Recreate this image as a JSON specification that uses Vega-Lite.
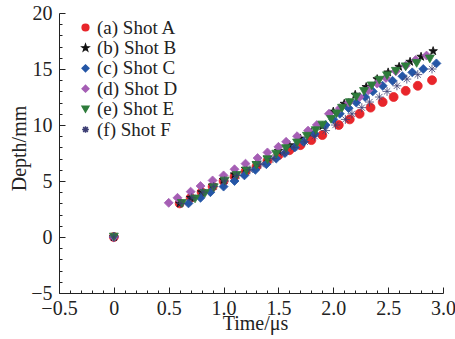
{
  "$schema": "https://vega.github.io/schema/vega-lite/v6.json",
  "width": 384,
  "height": 280,
  "autosize": {"type": "none"},
  "padding": {"left": 59, "top": 13, "right": 12, "bottom": 46},
  "config": {
    "view": {"stroke": null},
    "font": "Liberation Serif",
    "axis": {
      "grid": false,
      "domainColor": "#222222",
      "domainWidth": 1,
      "tickColor": "#222222",
      "tickWidth": 1,
      "labelFont": "Liberation Serif",
      "labelFontSize": 20,
      "labelColor": "#222222",
      "titleFont": "Liberation Serif",
      "titleFontSize": 20,
      "titleFontWeight": "normal",
      "titleColor": "#222222"
    }
  },
  "data": {
    "values": [
      {"shot": "(a) Shot A", "t": 0, "depth": 0},
      {"shot": "(a) Shot A", "t": 0.6, "depth": 3.0},
      {"shot": "(a) Shot A", "t": 0.7, "depth": 3.5},
      {"shot": "(a) Shot A", "t": 0.8, "depth": 4.0},
      {"shot": "(a) Shot A", "t": 0.9, "depth": 4.5},
      {"shot": "(a) Shot A", "t": 1.0, "depth": 5.0},
      {"shot": "(a) Shot A", "t": 1.1, "depth": 5.4},
      {"shot": "(a) Shot A", "t": 1.2, "depth": 5.85},
      {"shot": "(a) Shot A", "t": 1.3, "depth": 6.3},
      {"shot": "(a) Shot A", "t": 1.4, "depth": 6.8},
      {"shot": "(a) Shot A", "t": 1.5, "depth": 7.3},
      {"shot": "(a) Shot A", "t": 1.6, "depth": 7.75},
      {"shot": "(a) Shot A", "t": 1.7, "depth": 8.2},
      {"shot": "(a) Shot A", "t": 1.8, "depth": 8.65},
      {"shot": "(a) Shot A", "t": 1.9, "depth": 9.1},
      {"shot": "(a) Shot A", "t": 2.05, "depth": 10.0},
      {"shot": "(a) Shot A", "t": 2.15, "depth": 10.5},
      {"shot": "(a) Shot A", "t": 2.24, "depth": 11.0},
      {"shot": "(a) Shot A", "t": 2.34, "depth": 11.55},
      {"shot": "(a) Shot A", "t": 2.45, "depth": 12.05},
      {"shot": "(a) Shot A", "t": 2.55, "depth": 12.5},
      {"shot": "(a) Shot A", "t": 2.66, "depth": 13.05},
      {"shot": "(a) Shot A", "t": 2.77, "depth": 13.5},
      {"shot": "(a) Shot A", "t": 2.9, "depth": 14.0},

      {"shot": "(b) Shot B", "t": 0, "depth": 0},
      {"shot": "(b) Shot B", "t": 0.6, "depth": 3.0},
      {"shot": "(b) Shot B", "t": 0.7, "depth": 3.5},
      {"shot": "(b) Shot B", "t": 0.8, "depth": 4.0},
      {"shot": "(b) Shot B", "t": 0.9, "depth": 4.6},
      {"shot": "(b) Shot B", "t": 1.0, "depth": 5.1},
      {"shot": "(b) Shot B", "t": 1.1, "depth": 5.6},
      {"shot": "(b) Shot B", "t": 1.2, "depth": 6.1},
      {"shot": "(b) Shot B", "t": 1.3, "depth": 6.6},
      {"shot": "(b) Shot B", "t": 1.4, "depth": 7.1},
      {"shot": "(b) Shot B", "t": 1.5, "depth": 7.7},
      {"shot": "(b) Shot B", "t": 1.6, "depth": 8.2},
      {"shot": "(b) Shot B", "t": 1.7, "depth": 8.8},
      {"shot": "(b) Shot B", "t": 1.8, "depth": 9.3},
      {"shot": "(b) Shot B", "t": 1.9, "depth": 9.9},
      {"shot": "(b) Shot B", "t": 2.0, "depth": 11.2},
      {"shot": "(b) Shot B", "t": 2.1, "depth": 11.9},
      {"shot": "(b) Shot B", "t": 2.2, "depth": 12.7},
      {"shot": "(b) Shot B", "t": 2.3, "depth": 13.4},
      {"shot": "(b) Shot B", "t": 2.4, "depth": 14.1},
      {"shot": "(b) Shot B", "t": 2.5, "depth": 14.7},
      {"shot": "(b) Shot B", "t": 2.6, "depth": 15.2},
      {"shot": "(b) Shot B", "t": 2.7, "depth": 15.65},
      {"shot": "(b) Shot B", "t": 2.8, "depth": 16.1},
      {"shot": "(b) Shot B", "t": 2.91, "depth": 16.6},

      {"shot": "(c) Shot C", "t": 0, "depth": 0},
      {"shot": "(c) Shot C", "t": 0.68, "depth": 3.0},
      {"shot": "(c) Shot C", "t": 0.79, "depth": 3.5},
      {"shot": "(c) Shot C", "t": 0.88, "depth": 4.0},
      {"shot": "(c) Shot C", "t": 1.0, "depth": 4.5},
      {"shot": "(c) Shot C", "t": 1.1, "depth": 5.0},
      {"shot": "(c) Shot C", "t": 1.19, "depth": 5.5},
      {"shot": "(c) Shot C", "t": 1.29, "depth": 6.0},
      {"shot": "(c) Shot C", "t": 1.39, "depth": 6.5},
      {"shot": "(c) Shot C", "t": 1.48, "depth": 7.0},
      {"shot": "(c) Shot C", "t": 1.56, "depth": 7.5},
      {"shot": "(c) Shot C", "t": 1.65, "depth": 8.0},
      {"shot": "(c) Shot C", "t": 1.73, "depth": 8.5},
      {"shot": "(c) Shot C", "t": 1.83, "depth": 9.2},
      {"shot": "(c) Shot C", "t": 1.93, "depth": 10.0},
      {"shot": "(c) Shot C", "t": 2.0, "depth": 10.5},
      {"shot": "(c) Shot C", "t": 2.06, "depth": 11.0},
      {"shot": "(c) Shot C", "t": 2.14, "depth": 11.5},
      {"shot": "(c) Shot C", "t": 2.21, "depth": 12.0},
      {"shot": "(c) Shot C", "t": 2.29, "depth": 12.5},
      {"shot": "(c) Shot C", "t": 2.36, "depth": 13.0},
      {"shot": "(c) Shot C", "t": 2.45, "depth": 13.5},
      {"shot": "(c) Shot C", "t": 2.54, "depth": 13.95},
      {"shot": "(c) Shot C", "t": 2.63, "depth": 14.35},
      {"shot": "(c) Shot C", "t": 2.72, "depth": 14.7},
      {"shot": "(c) Shot C", "t": 2.82, "depth": 15.0},
      {"shot": "(c) Shot C", "t": 2.94, "depth": 15.5},

      {"shot": "(d) Shot D", "t": 0, "depth": 0},
      {"shot": "(d) Shot D", "t": 0.5, "depth": 3.05},
      {"shot": "(d) Shot D", "t": 0.58, "depth": 3.5},
      {"shot": "(d) Shot D", "t": 0.7, "depth": 4.05},
      {"shot": "(d) Shot D", "t": 0.79, "depth": 4.55},
      {"shot": "(d) Shot D", "t": 0.9, "depth": 5.05},
      {"shot": "(d) Shot D", "t": 1.0, "depth": 5.5},
      {"shot": "(d) Shot D", "t": 1.1, "depth": 6.05},
      {"shot": "(d) Shot D", "t": 1.2, "depth": 6.55},
      {"shot": "(d) Shot D", "t": 1.31, "depth": 7.05},
      {"shot": "(d) Shot D", "t": 1.4, "depth": 7.55},
      {"shot": "(d) Shot D", "t": 1.5, "depth": 8.05},
      {"shot": "(d) Shot D", "t": 1.57, "depth": 8.5},
      {"shot": "(d) Shot D", "t": 1.67, "depth": 9.0},
      {"shot": "(d) Shot D", "t": 1.77, "depth": 9.5},
      {"shot": "(d) Shot D", "t": 1.85, "depth": 10.0},
      {"shot": "(d) Shot D", "t": 1.96, "depth": 11.0},
      {"shot": "(d) Shot D", "t": 2.06, "depth": 11.5},
      {"shot": "(d) Shot D", "t": 2.14, "depth": 12.0},
      {"shot": "(d) Shot D", "t": 2.24, "depth": 12.5},
      {"shot": "(d) Shot D", "t": 2.32, "depth": 13.1},
      {"shot": "(d) Shot D", "t": 2.4, "depth": 13.7},
      {"shot": "(d) Shot D", "t": 2.48, "depth": 14.2},
      {"shot": "(d) Shot D", "t": 2.57, "depth": 14.8},
      {"shot": "(d) Shot D", "t": 2.66, "depth": 15.3},
      {"shot": "(d) Shot D", "t": 2.75, "depth": 15.8},
      {"shot": "(d) Shot D", "t": 2.85, "depth": 16.2},

      {"shot": "(e) Shot E", "t": 0, "depth": 0},
      {"shot": "(e) Shot E", "t": 0.62, "depth": 3.0},
      {"shot": "(e) Shot E", "t": 0.74, "depth": 3.4},
      {"shot": "(e) Shot E", "t": 0.83, "depth": 3.9},
      {"shot": "(e) Shot E", "t": 0.91, "depth": 4.4},
      {"shot": "(e) Shot E", "t": 1.01, "depth": 5.0},
      {"shot": "(e) Shot E", "t": 1.12, "depth": 5.5},
      {"shot": "(e) Shot E", "t": 1.21, "depth": 5.9},
      {"shot": "(e) Shot E", "t": 1.3, "depth": 6.4},
      {"shot": "(e) Shot E", "t": 1.4, "depth": 6.9},
      {"shot": "(e) Shot E", "t": 1.48, "depth": 7.4},
      {"shot": "(e) Shot E", "t": 1.57, "depth": 7.9},
      {"shot": "(e) Shot E", "t": 1.67, "depth": 8.4},
      {"shot": "(e) Shot E", "t": 1.76, "depth": 9.0},
      {"shot": "(e) Shot E", "t": 1.84, "depth": 9.5},
      {"shot": "(e) Shot E", "t": 1.9, "depth": 10.0},
      {"shot": "(e) Shot E", "t": 1.98, "depth": 10.5},
      {"shot": "(e) Shot E", "t": 2.03, "depth": 11.0},
      {"shot": "(e) Shot E", "t": 2.08, "depth": 11.5},
      {"shot": "(e) Shot E", "t": 2.15, "depth": 12.0},
      {"shot": "(e) Shot E", "t": 2.21, "depth": 12.5},
      {"shot": "(e) Shot E", "t": 2.28, "depth": 13.0},
      {"shot": "(e) Shot E", "t": 2.35, "depth": 13.5},
      {"shot": "(e) Shot E", "t": 2.42, "depth": 14.0},
      {"shot": "(e) Shot E", "t": 2.49, "depth": 14.4},
      {"shot": "(e) Shot E", "t": 2.57, "depth": 14.8},
      {"shot": "(e) Shot E", "t": 2.66, "depth": 15.2},
      {"shot": "(e) Shot E", "t": 2.76, "depth": 15.5},
      {"shot": "(e) Shot E", "t": 2.88, "depth": 15.9},

      {"shot": "(f) Shot F", "t": 0, "depth": 0},
      {"shot": "(f) Shot F", "t": 0.61, "depth": 3.0},
      {"shot": "(f) Shot F", "t": 0.71, "depth": 3.5},
      {"shot": "(f) Shot F", "t": 0.81, "depth": 4.0},
      {"shot": "(f) Shot F", "t": 0.91, "depth": 4.5},
      {"shot": "(f) Shot F", "t": 1.01, "depth": 5.0},
      {"shot": "(f) Shot F", "t": 1.12, "depth": 5.5},
      {"shot": "(f) Shot F", "t": 1.24, "depth": 6.0},
      {"shot": "(f) Shot F", "t": 1.34, "depth": 6.5},
      {"shot": "(f) Shot F", "t": 1.45, "depth": 7.0},
      {"shot": "(f) Shot F", "t": 1.55, "depth": 7.5},
      {"shot": "(f) Shot F", "t": 1.64, "depth": 8.0},
      {"shot": "(f) Shot F", "t": 1.74, "depth": 8.5},
      {"shot": "(f) Shot F", "t": 1.83, "depth": 9.0},
      {"shot": "(f) Shot F", "t": 1.93, "depth": 9.5},
      {"shot": "(f) Shot F", "t": 2.02, "depth": 10.0},
      {"shot": "(f) Shot F", "t": 2.11, "depth": 10.5},
      {"shot": "(f) Shot F", "t": 2.17, "depth": 11.0},
      {"shot": "(f) Shot F", "t": 2.26, "depth": 11.55},
      {"shot": "(f) Shot F", "t": 2.33, "depth": 12.05},
      {"shot": "(f) Shot F", "t": 2.42, "depth": 12.5},
      {"shot": "(f) Shot F", "t": 2.49, "depth": 13.0},
      {"shot": "(f) Shot F", "t": 2.58, "depth": 13.5},
      {"shot": "(f) Shot F", "t": 2.67, "depth": 14.1},
      {"shot": "(f) Shot F", "t": 2.77, "depth": 14.5},
      {"shot": "(f) Shot F", "t": 2.9, "depth": 15.0}
    ]
  },
  "mark": {"type": "point", "filled": true, "size": 80, "strokeWidth": 0.8, "opacity": 1},
  "encoding": {
    "x": {
      "field": "t",
      "type": "quantitative",
      "scale": {"domain": [-0.5, 3.0], "nice": false, "zero": false},
      "axis": {
        "title": "Time/μs",
        "values": [-0.5, -0.4, -0.3, -0.2, -0.1, 0, 0.1, 0.2, 0.3, 0.4, 0.5, 0.6, 0.7, 0.8, 0.9, 1.0, 1.1, 1.2, 1.3, 1.4, 1.5, 1.6, 1.7, 1.8, 1.9, 2.0, 2.1, 2.2, 2.3, 2.4, 2.5, 2.6, 2.7, 2.8, 2.9, 3.0],
        "labelExpr": "abs(datum.value*2-round(datum.value*2))<0.001 ? (abs(datum.value)<0.001 ? '0' : format(datum.value, '.1f')) : ''",
        "tickSize": {"condition": {"test": "abs(datum.value*2-round(datum.value*2))<0.001", "value": -6}, "value": -3},
        "labelPadding": 11,
        "labelFlush": false,
        "labelOverlap": false,
        "titleX": 196,
        "titleY": 36.5,
        "titleBaseline": "alphabetic"
      }
    },
    "y": {
      "field": "depth",
      "type": "quantitative",
      "scale": {"domain": [-5, 20], "nice": false, "zero": false},
      "axis": {
        "title": "Depth/mm",
        "values": [-5, -4, -3, -2, -1, 0, 1, 2, 3, 4, 5, 6, 7, 8, 9, 10, 11, 12, 13, 14, 15, 16, 17, 18, 19, 20],
        "labelExpr": "datum.value % 5 == 0 ? format(datum.value, 'd') : ''",
        "tickSize": {"condition": {"test": "datum.value % 5 == 0", "value": -6}, "value": -3},
        "labelPadding": 13,
        "labelOverlap": false,
        "labelFlush": false,
        "titleX": -34,
        "titleY": 135,
        "titleBaseline": "alphabetic"
      }
    },
    "fill": {
      "field": "shot",
      "type": "nominal",
      "scale": {
        "domain": ["(a) Shot A", "(b) Shot B", "(c) Shot C", "(d) Shot D", "(e) Shot E", "(f) Shot F"],
        "range": ["#e8262b", "#111111", "#2456a6", "#a55eb4", "#2e7c3b", "#3b3d73"]
      },
      "legend": {
        "title": null,
        "orient": "none",
        "legendX": 17,
        "legendY": 5,
        "padding": 0,
        "labelFont": "Liberation Serif",
        "labelFontSize": 19,
        "labelColor": "#222222",
        "labelOffset": 2,
        "symbolSize": 45,
        "rowPadding": 0.4
      }
    },
    "stroke": {
      "field": "shot",
      "type": "nominal",
      "scale": {
        "domain": ["(a) Shot A", "(b) Shot B", "(c) Shot C", "(d) Shot D", "(e) Shot E", "(f) Shot F"],
        "range": ["#e8262b", "#111111", "#2456a6", "#a55eb4", "#2e7c3b", "#3b3d73"]
      },
      "legend": {
        "title": null,
        "orient": "none",
        "legendX": 17,
        "legendY": 5,
        "padding": 0,
        "labelFont": "Liberation Serif",
        "labelFontSize": 19,
        "labelColor": "#222222",
        "labelOffset": 2,
        "symbolSize": 45,
        "rowPadding": 0.4
      }
    },
    "shape": {
      "field": "shot",
      "type": "nominal",
      "scale": {
        "domain": ["(a) Shot A", "(b) Shot B", "(c) Shot C", "(d) Shot D", "(e) Shot E", "(f) Shot F"],
        "range": ["circle", "M0,-1L0.235,-0.324L0.951,-0.309L0.38,0.124L0.588,0.809L0,0.4L-0.588,0.809L-0.38,0.124L-0.951,-0.309L-0.235,-0.324Z", "diamond", "diamond", "triangle-down", "M-1,0L1,0M0,-1L0,1M-0.7,-0.7L0.7,0.7M-0.7,0.7L0.7,-0.7"]
      },
      "legend": {
        "title": null,
        "orient": "none",
        "legendX": 17,
        "legendY": 5,
        "padding": 0,
        "labelFont": "Liberation Serif",
        "labelFontSize": 19,
        "labelColor": "#222222",
        "labelOffset": 2,
        "symbolSize": 45,
        "rowPadding": 0.4
      }
    }
  }
}
